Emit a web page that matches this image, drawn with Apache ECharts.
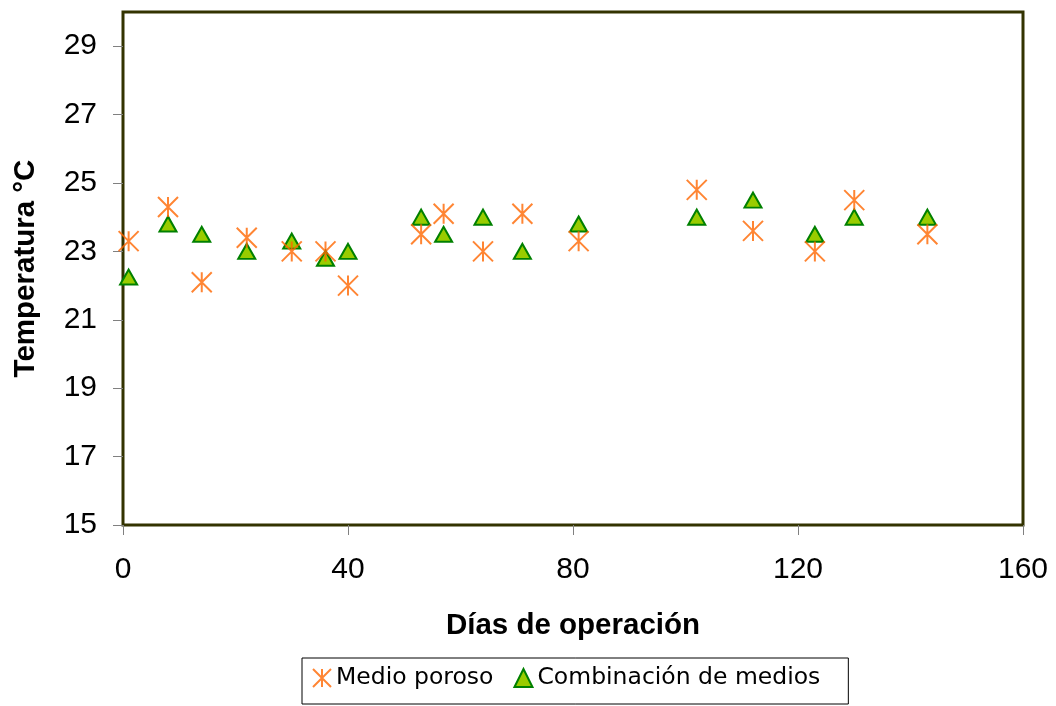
<!DOCTYPE html>
<html>
<head>
<meta charset="utf-8">
<script src="https://cdn.jsdelivr.net/npm/echarts@6/dist/echarts.min.js"></script>
<style>
  html, body { margin: 0; padding: 0; background: #fff; }
  #chart { width: 1056px; height: 706px; }
</style>
</head>
<body>
<div id="chart"></div>
<script>
// Operating days and temperatures (°C) for each medium
const diasPoroso = [1, 8, 14, 22, 30, 36, 40, 53, 57, 64, 71, 81, 102, 112, 123, 130, 143];
const tempPoroso = [23.3, 24.3, 22.1, 23.4, 23.0, 23.0, 22.0, 23.5, 24.1, 23.0, 24.1, 23.3, 24.8, 23.6, 23.0, 24.5, 23.5];

const diasCombinacion = [1, 8, 14, 22, 30, 36, 40, 53, 57, 64, 71, 81, 102, 112, 123, 130, 143];
const tempCombinacion = [22.25, 23.8, 23.5, 23.0, 23.3, 22.8, 23.0, 24.0, 23.5, 24.0, 23.0, 23.8, 24.0, 24.5, 23.5, 24.0, 24.0];

const yTicks = [15, 17, 19, 21, 23, 25, 27, 29];
const xTicks = [0, 40, 80, 120, 160];

const pair = (xs, ys) => xs.map((x, i) => [x, ys[i]]);

// Six-armed asterisk drawn as strokes only
const asterisk = 'path://M0,0L20,20M20,0L0,20M10,0L10,20';

const chart = echarts.init(document.getElementById('chart'), null, { renderer: 'canvas' });

chart.setOption({
  animation: false,
  backgroundColor: '#ffffff',
  grid: {
    left: 123, right: 33, top: 12, bottom: 181,
    show: true, borderColor: '#333300', borderWidth: 3, backgroundColor: '#ffffff'
  },
  xAxis: {
    type: 'value',
    min: xTicks[0], max: xTicks[xTicks.length - 1], interval: 40,
    name: 'Días de operación',
    nameLocation: 'middle',
    nameGap: 86,
    nameTextStyle: { fontFamily: 'Liberation Sans', fontWeight: 'bold', fontSize: 29.5, color: '#000' },
    axisLine: { show: false },
    axisTick: { show: true, length: 10, lineStyle: { color: '#808080', width: 1 } },
    axisLabel: { margin: 30, fontFamily: 'Liberation Sans', fontSize: 30, color: '#000' },
    splitLine: { show: false }
  },
  yAxis: {
    type: 'value',
    min: yTicks[0], max: 30, interval: 2,
    name: 'Temperatura °C',
    nameLocation: 'middle',
    nameGap: 82,
    nameRotate: 90,
    nameTextStyle: { fontFamily: 'Liberation Sans', fontWeight: 'bold', fontSize: 29.5, color: '#000' },
    axisLine: { show: false },
    axisTick: { show: true, length: 10, lineStyle: { color: '#808080', width: 1 } },
    axisLabel: {
      margin: 26, fontFamily: 'Liberation Sans', fontSize: 30, color: '#000',
      showMaxLabel: false,
      formatter: v => (yTicks.includes(v) ? String(v) : '')
    },
    splitLine: { show: false }
  },
  legend: {
    left: 302, top: 658,
    padding: [8, 28, 14, 10],
    itemGap: 20,
    itemWidth: 18, itemHeight: 18,
    borderColor: '#000', borderWidth: 1,
    backgroundColor: '#fff',
    textStyle: { fontFamily: 'DejaVu Sans', fontSize: 23.5, color: '#000' },
    data: ['Medio poroso', 'Combinación de medios']
  },
  series: [
    {
      name: 'Medio poroso',
      type: 'scatter',
      data: pair(diasPoroso, tempPoroso),
      symbol: asterisk,
      symbolSize: 20,
      itemStyle: { color: 'rgba(0,0,0,0)', borderColor: '#FF6600', borderWidth: 2 },
      z: 3
    },
    {
      name: 'Combinación de medios',
      type: 'scatter',
      data: pair(diasCombinacion, tempCombinacion),
      symbol: 'triangle',
      symbolSize: [17, 15],
      itemStyle: { color: '#99CC00', borderColor: '#008000', borderWidth: 2, opacity: 1 },
      z: 2
    }
  ]
});
</script>
</body>
</html>
